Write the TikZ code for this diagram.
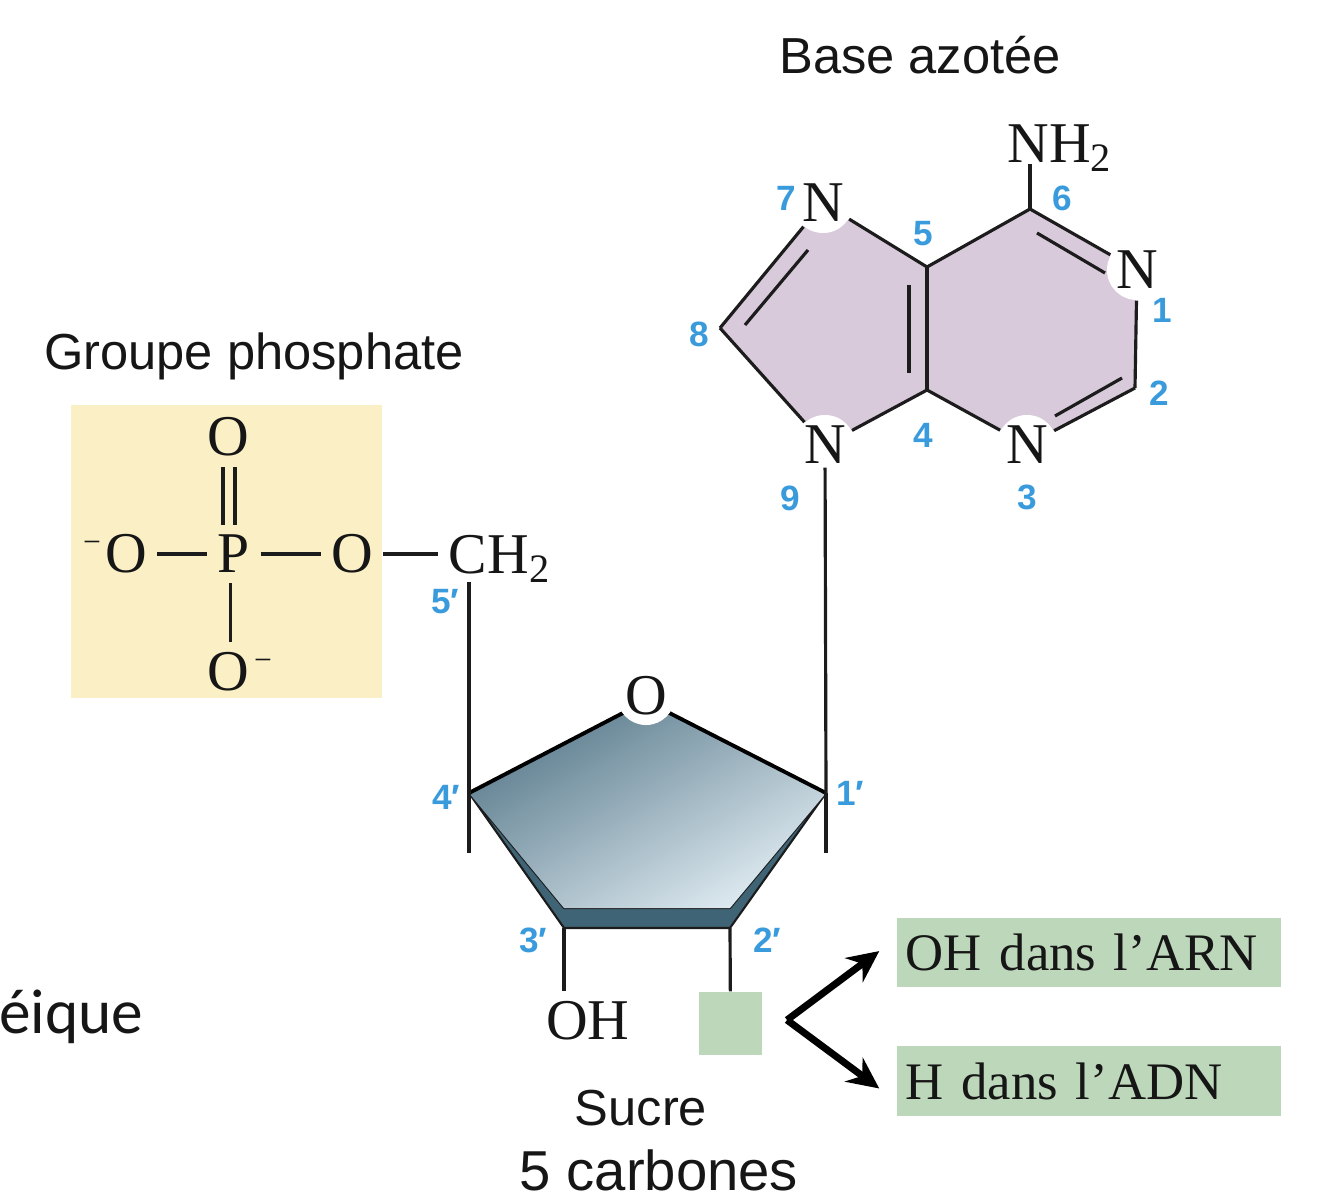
\documentclass[tikz,border=0pt]{standalone}
\usepackage{xcolor}
\usepackage{fontspec}
\usepackage{tikz}
\usetikzlibrary{arrows.meta, positioning}
\setmainfont{Liberation Sans}
\newfontfamily\chemfont{Liberation Serif}
\newfontfamily\cutfont{Carlito}
\definecolor{basepurple}{HTML}{d8cadb}
\definecolor{phosyellow}{HTML}{fbefc6}
\definecolor{boxgreen}{HTML}{bdd7ba}
\definecolor{numblue}{HTML}{3a9bdc}
\definecolor{sugardark}{HTML}{3f6475}
\definecolor{sugartop}{HTML}{5a7b8c}
\definecolor{sugarmid}{HTML}{8ba6b4}
\definecolor{sugarlow}{HTML}{dde9f0}
\definecolor{bondgray}{HTML}{1c1c1c}
\definecolor{inktext}{HTML}{161616}
\tikzset{
    bond/.style={bondgray, line width=0.9pt},
    atom/.style={font=\chemfont\fontsize{16.4}{18}\selectfont, inner sep=2.8pt, text=inktext},
    ringatom/.style={atom, circle, fill=white, inner sep=0pt, minimum size=0.6cm},
    charge/.style={font=\chemfont\fontsize{9}{10}\selectfont, inner sep=0pt, text=inktext},
    num/.style={font=\bfseries\fontsize{10}{12}\selectfont, text=numblue, inner sep=0pt},
    title/.style={font=\fontsize{14.4}{17}\selectfont, text=inktext, inner sep=0pt},
    greenbox/.style={fill=boxgreen, text width=3.66cm, inner xsep=0.09cm, inner ysep=0pt,
        minimum height=0.69cm, font=\chemfont\fontsize{15}{18}\selectfont, text=inktext},
    fork/.style={-{Stealth[length=9pt, width=8.5pt, inset=3pt]}, black, line width=2pt, shorten >=6pt}
}
\begin{document}
\begin{tikzpicture}[x=0.01cm, y=-0.01cm]
    \useasboundingbox (0,0) rectangle (1318,1200);

    \node[title] (basetitle) at (920,55) {Base azotée};
    \node[title] (phostitle) at (254,356) {Groupe phosphate};
    \node[title] (sucre) at (641,1108) {Sucre};
    \node[title, font=\fontsize{16}{19}\selectfont] (carbones) at (659,1170) {5 carbones};
    \node[anchor=base east, inner sep=0pt, font=\cutfont\fontsize{18}{20}\selectfont, text=inktext] (cutword) at (144,1033) {éique};

    \fill[phosyellow] (71,405) rectangle (382,698);
    \node[atom] (p) at (234,554) {P};
    \node[atom] (otop) at (228,437) {O};
    \node[atom] (oleft) at (126,554) {O};
    \node[atom] (obot) at (228,672) {O};
    \node[atom] (oright) at (352,554) {O};
    \node[atom] (ch2) at (500,559) {CH\textsubscript{2}};
    \node[charge] (minusleft) at (92,547) {−};
    \node[charge] (minusbot) at (263,665) {−};
    \coordinate (c5p) at (469,582);

    \draw[bond] (oleft) -- (p);
    \draw[bond] (p) -- (oright);
    \draw[bond] (oright) -- (oright -| ch2.west);
    \draw[bond] ([xshift=0.6pt]p.south -| obot) -- ([xshift=0.6pt]obot.north);
    \draw[bond] ([xshift=-1.4pt]p.north -| otop) -- ([xshift=-1.4pt]otop.south);
    \draw[bond] ([xshift=2pt]p.north -| otop) -- ([xshift=2pt]otop.south);

    \coordinate (c6) at (1030,209);
    \coordinate (c5) at (927,267);
    \coordinate (c4) at (927,390);
    \coordinate (c2) at (1135,388);
    \coordinate (c8) at (720,328);
    \fill[basepurple] (c6) -- (1136,270) -- (c2) -- (1027,445) -- (c4) -- (825,445) -- (c8) -- (823,203) -- (c5) -- cycle;

    \node[ringatom] (n7) at (823,203) {N};
    \node[ringatom] (n9) at (825,445) {N};
    \node[ringatom] (n3) at (1027,445) {N};
    \node[ringatom] (n1) at (1137,270) {N};
    \node[atom] (nh2) at (1060,148) {NH\textsubscript{2}};

    \draw[bond] (n7) -- (c5);
    \draw[bond] (c5) -- (c6);
    \draw[bond] (c6) -- (n1);
    \draw[bond] (n1) -- (c2);
    \draw[bond] (c2) -- (n3);
    \draw[bond] (n3) -- (c4);
    \draw[bond] (c4) -- (n9);
    \draw[bond] (n9) -- (c8);
    \draw[bond] (c8) -- (n7);
    \draw[bond] (c5) -- (c4);
    \draw[bond] (c6) -- ([yshift=5pt]c6 |- nh2.south);

    \coordinate (in7) at (808,250);
    \coordinate (in8) at (745,325);
    \coordinate (in5) at (909,285);
    \coordinate (in4) at (909,373);
    \coordinate (in6) at (1037,233);
    \coordinate (in1) at (1105,273);
    \coordinate (in2) at (1122,378);
    \coordinate (in3) at (1055,416);
    \draw[bond] (in7) -- (in8);
    \draw[bond] (in5) -- (in4);
    \draw[bond] (in6) -- (in1);
    \draw[bond] (in2) -- (in3);

    \coordinate (c4p) at (469,793);
    \coordinate (c1p) at (826,793);
    \coordinate (c3p) at (564,928);
    \coordinate (c2p) at (730,928);
    \coordinate (c3t) at (564,908);
    \coordinate (c2t) at (730,908);
    \coordinate (otip) at (646,701);
    \coordinate (c4end) at (469,853);
    \coordinate (c1end) at (826,853);

    \fill[sugardark, draw=bondgray, line width=0.6pt] (c4p) -- (c3p) -- (c2p) -- (c1p) -- (c2t) -- (c3t) -- cycle;
    \shade[top color=sugartop, middle color=sugarmid, bottom color=sugarlow, shading angle=30] (c4p) -- (otip) -- (c1p) -- (c2t) -- (c3t) -- cycle;
    \draw[bond, line width=1.1pt, black] (c4p) -- (otip) -- (c1p);
    \node[atom, circle, fill=white, inner sep=0pt, minimum size=0.58cm] (oring) at (646,696) {O};

    \draw[bond] (c5p) -- (c4p) -- (c4end);
    \draw[bond, shorten <=-2.3pt] (n9) -- (c1p);
    \draw[bond] (c1p) -- (c1end);

    \node[atom] (oh) at (588,1021) {OH};
    \node[fill=boxgreen, minimum size=0.63cm, inner sep=0pt] (sqgreen) at (730.5,1023.5) {};
    \draw[bond] (c3p) -- (c3p |- oh.north);
    \draw[bond] (c2p) -- (sqgreen);

    \node[greenbox] (boxoh) at (1089,952.5) {OH dans l’ARN};
    \node[greenbox] (boxh) at (1089,1081) {H dans l’ADN};
    \coordinate (forkpt) at (787,1020);
    \draw[fork] (forkpt) -- ([yshift=4pt]boxoh.west);
    \draw[fork] (forkpt) -- ([yshift=-5.7pt]boxh.west);

    \foreach \nm/\px/\py/\tx in {l7/786/198/7, l5/923/234/5, l6/1062/198/6, l1/1162/310/1, l2/1159/393/2,
        l3/1027/497/3, l4/923/435/4, l9/790/498/9, l8/699/334/8, l5p/445/602/5′, l4p/446/797/4′,
        l1p/850/793/1′, l3p/533/940/3′, l2p/767/940/2′}
        \node[num] (\nm) at (\px,\py) {\tx};
\end{tikzpicture}
\end{document}
